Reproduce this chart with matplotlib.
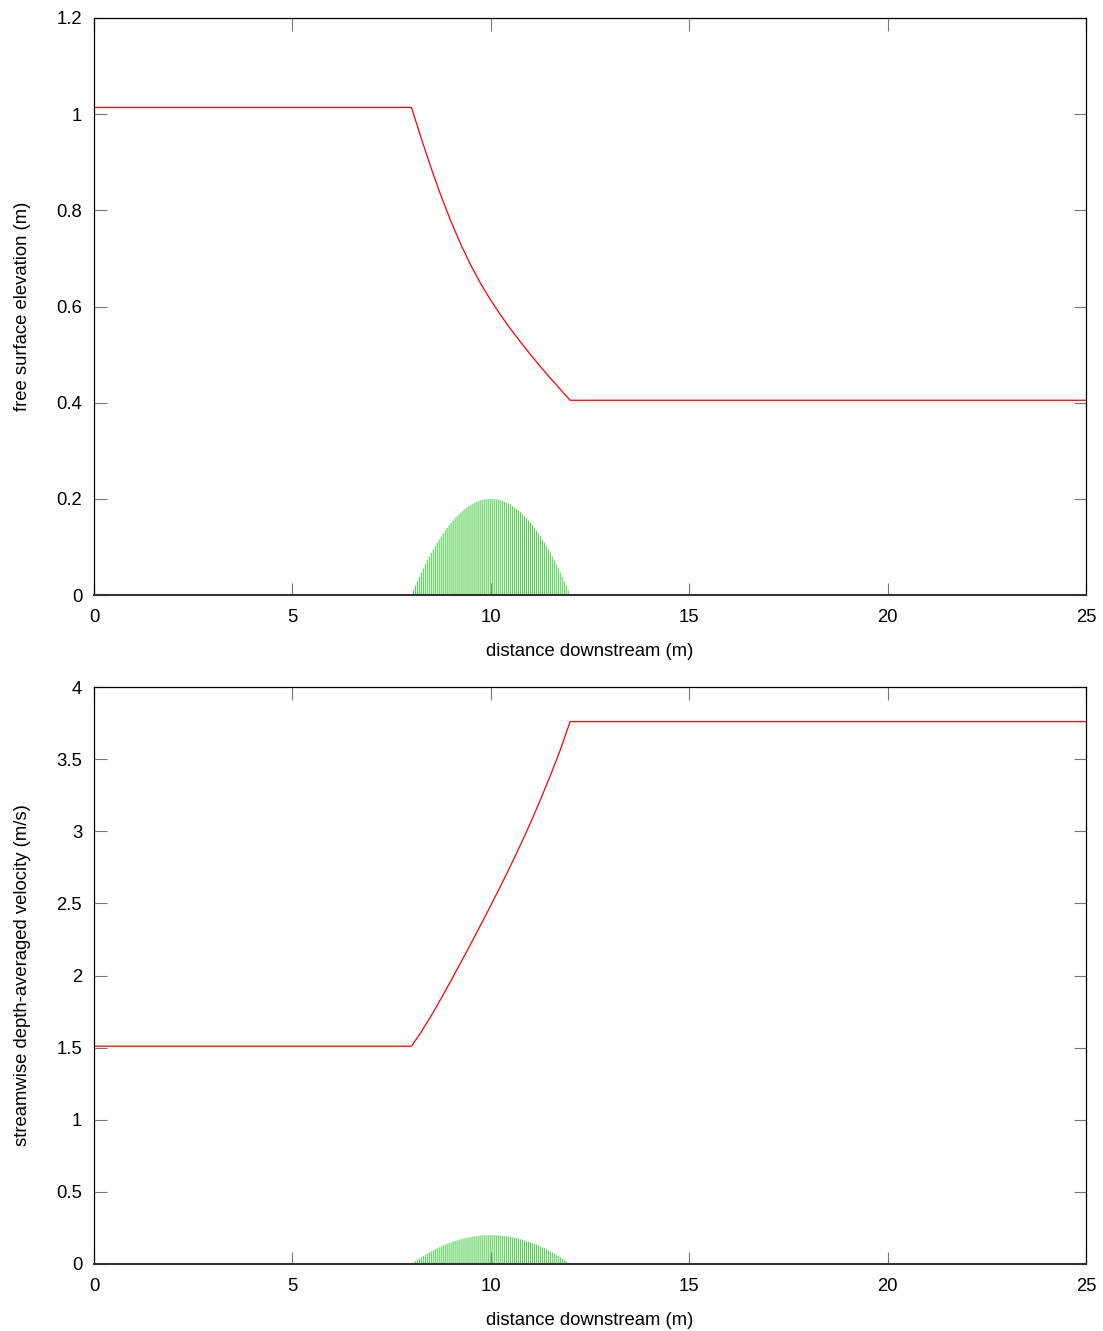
import numpy as np
import matplotlib
matplotlib.use("Agg")
import matplotlib.pyplot as plt

plt.rcParams['font.family'] = ['Liberation Sans', 'DejaVu Sans']

# ---- data ----
# free surface (top panel)
eta_x = [0.0, 8.0, 8.25, 8.5, 8.75, 9.0, 9.25, 9.5, 9.75, 10.0, 10.25, 10.5,
         10.75, 11.0, 11.25, 11.5, 11.75, 12.0, 25.0]
eta_y = [1.014, 1.014, 0.949, 0.887, 0.829, 0.776, 0.728, 0.685, 0.647, 0.613,
         0.582, 0.553, 0.526, 0.500, 0.475, 0.451, 0.428, 0.405, 0.405]

# depth-averaged velocity (bottom panel)
vel_x = [0.0, 8.0, 8.25, 8.5, 8.75, 9.0, 9.25, 9.5, 9.75, 10.0, 10.25, 10.5,
         10.75, 11.0, 11.25, 11.5, 11.75, 12.0, 25.0]
vel_y = [1.51, 1.51, 1.61, 1.722, 1.842, 1.966, 2.093, 2.222, 2.353, 2.486, 2.622,
         2.762, 2.907, 3.058, 3.218, 3.386, 3.563, 3.76, 3.76]

# bed bump heights, sampled every 0.05 m from 8 to 12 m (drawn as impulses)
bump_x = np.round(np.arange(8.0, 12.0001, 0.05), 2)
bump_z = [0.0, 0.0099, 0.0195, 0.0289, 0.038, 0.0469, 0.0555, 0.0639, 0.072, 0.0799,
          0.0875, 0.0949, 0.102, 0.1089, 0.1155, 0.1219, 0.128, 0.1339, 0.1395, 0.1449,
          0.15, 0.1549, 0.1595, 0.1639, 0.168, 0.1719, 0.1755, 0.1789, 0.182, 0.1849,
          0.1875, 0.1899, 0.192, 0.1939, 0.1955, 0.1969, 0.198, 0.1989, 0.1995, 0.1999,
          0.2,
          0.1999, 0.1995, 0.1989, 0.198, 0.1969, 0.1955, 0.1939, 0.192, 0.1899, 0.1875,
          0.1849, 0.182, 0.1789, 0.1755, 0.1719, 0.168, 0.1639, 0.1595, 0.1549, 0.15,
          0.1449, 0.1395, 0.1339, 0.128, 0.1219, 0.1155, 0.1089, 0.102, 0.0949, 0.0875,
          0.0799, 0.072, 0.0639, 0.0555, 0.0469, 0.038, 0.0289, 0.0195, 0.0099, 0.0]

x_ticks = [0, 5, 10, 15, 20, 25]
x_ticklabels = ["0", "5", "10", "15", "20", "25"]
top_yticks = [0, 0.2, 0.4, 0.6, 0.8, 1.0, 1.2]
top_yticklabels = ["0", "0.2", "0.4", "0.6", "0.8", "1", "1.2"]
bot_yticks = [0, 0.5, 1, 1.5, 2, 2.5, 3, 3.5, 4]
bot_yticklabels = ["0", "0.5", "1", "1.5", "2", "2.5", "3", "3.5", "4"]

W, H = 1103, 1331
fig = plt.figure(figsize=(W / 100, H / 100), dpi=100)

def make_ax(top_px, bottom_px):
    left, right = 94, 1086
    return fig.add_axes([left / W, 1 - bottom_px / H, (right - left) / W, (bottom_px - top_px) / H])

ax1 = make_ax(18, 595)
ax2 = make_ax(687, 1264)

panels = [
    (ax1, eta_x, eta_y, (0, 1.2), top_yticks, top_yticklabels, "free surface elevation (m)"),
    (ax2, vel_x, vel_y, (0, 4), bot_yticks, bot_yticklabels, "streamwise depth-averaged velocity (m/s)"),
]

FS = 13.3
for ax, xs, ys, ylim, yt, ytl, ylab in panels:
    ax.vlines(bump_x, 0, bump_z, colors='#4cd04c', linewidth=0.75,
              antialiased=True, snap=False)
    ax.plot(xs, ys, color='#ff0000', linewidth=0.9)
    ax.set_xlim(0, 25)
    ax.set_ylim(*ylim)
    ax.set_xticks(x_ticks)
    ax.set_xticklabels(x_ticklabels)
    ax.set_yticks(yt)
    ax.set_yticklabels(ytl)
    ax.tick_params(direction='in', length=9, width=0.8, color='#777777',
                   top=True, right=True, labelsize=FS)
    ax.tick_params(axis='x', pad=10)
    ax.tick_params(axis='y', pad=8.5)
    for s in ax.spines.values():
        s.set_linewidth(0.9)
        s.set_color('black')
    ax.spines['bottom'].set_linewidth(1.5)
    ax.spines['bottom'].set_color('#333333')
    ax.set_xlabel("distance downstream (m)", fontsize=FS, labelpad=12.5)
    ax.set_ylabel(ylab, fontsize=FS)
    ax.yaxis.set_label_coords(-63 / 992, 0.5)

fig.savefig("out.png", dpi=100)
